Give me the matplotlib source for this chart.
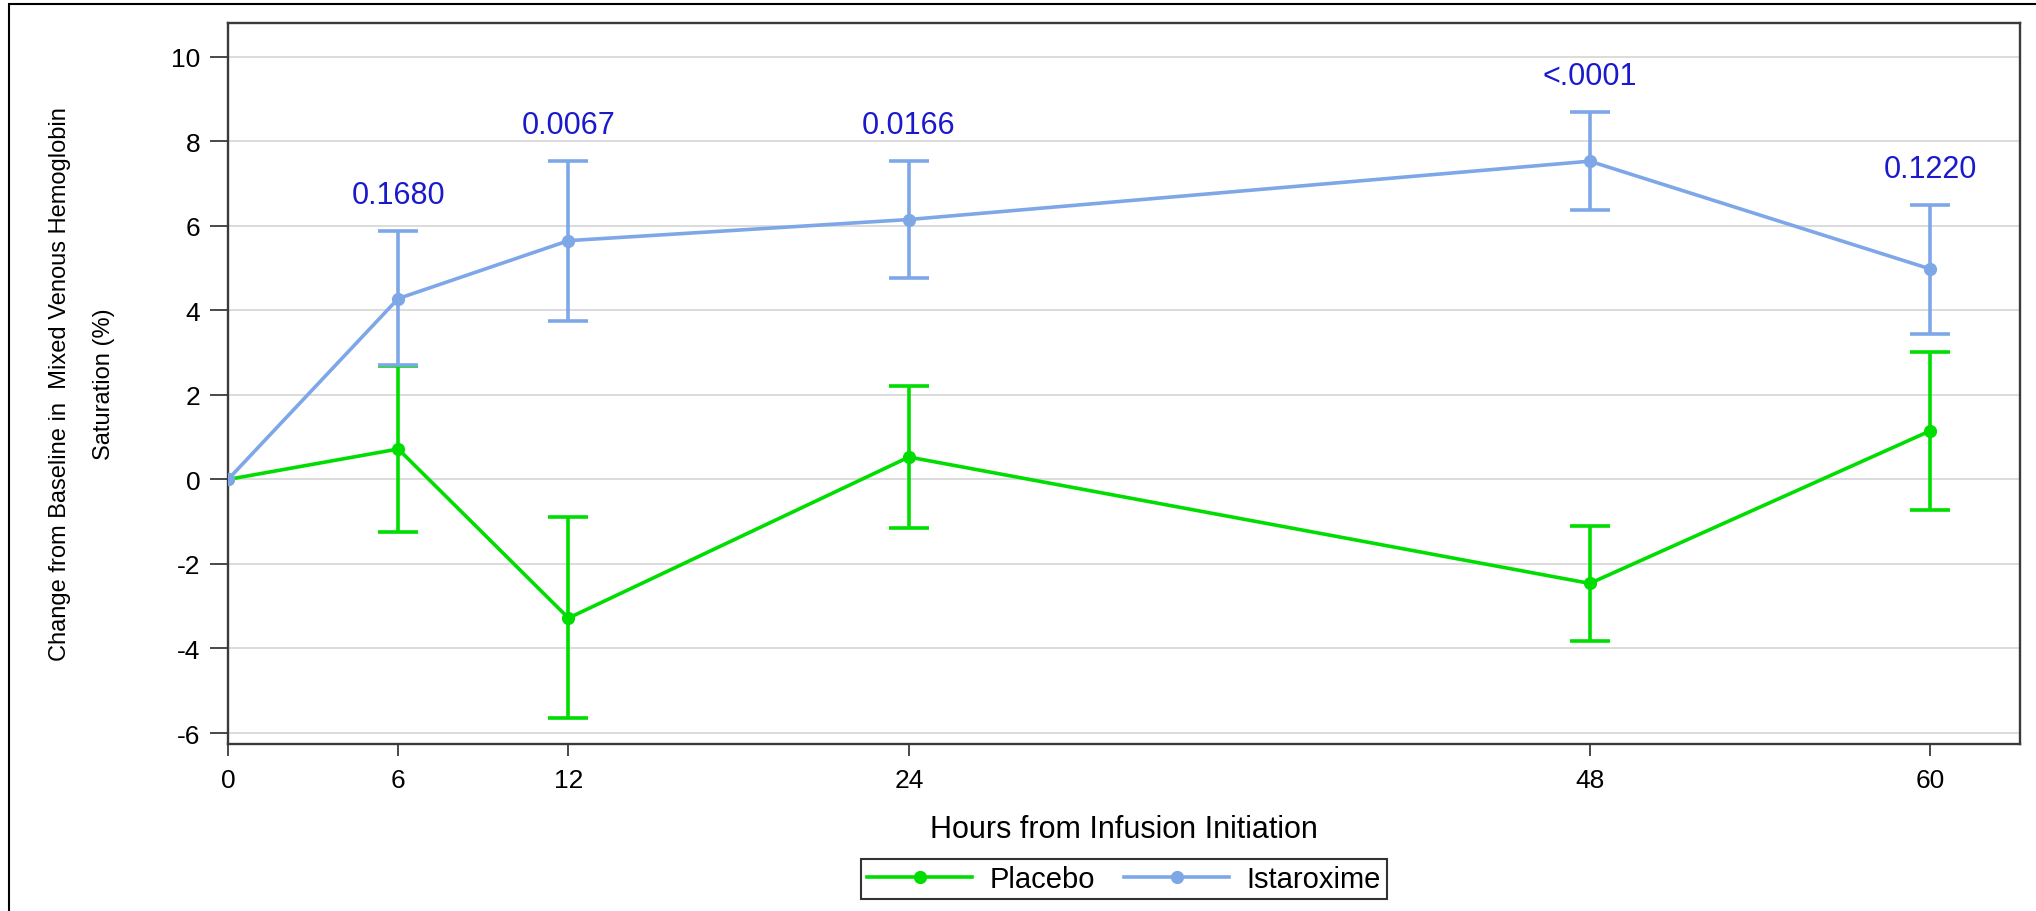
import matplotlib
matplotlib.use("Agg")
import matplotlib.pyplot as plt
from matplotlib.patches import Rectangle

plt.rcParams['font.family'] = ['Liberation Sans', 'DejaVu Sans']
plt.rcParams['axes.unicode_minus'] = False

# values
hours = [0, 6, 12, 24, 48, 60]
placebo_mean = [0, 0.72, -3.28, 0.53, -2.46, 1.15]
placebo_lower = [0, -1.24, -5.64, -1.16, -3.82, -0.72]
placebo_upper = [0, 2.68, -0.90, 2.22, -1.10, 3.02]
istar_mean = [0, 4.28, 5.65, 6.15, 7.53, 4.98]
istar_lower = [0, 2.70, 3.76, 4.76, 6.37, 3.44]
istar_upper = [0, 5.88, 7.54, 7.54, 8.70, 6.49]
p_values = ['', '0.1680', '0.0067', '0.0166', '<.0001', '0.1220']
y_ticks = [-6, -4, -2, 0, 2, 4, 6, 8, 10]

green = '#00dd00'
blue = '#7ea7e8'
pcolor = '#1a1acc'
spine_col = '#3a3a3a'

fig = plt.figure(figsize=(20.36, 9.12), dpi=100)
ax = fig.add_axes([0.1120, 0.1831, 0.8802, 0.7906])

# outer frame (cropped on right/bottom in the reference)
fig.patches.append(Rectangle((9 / 2036, -0.2), 2.0, 1.2 - 5 / 912, transform=fig.transFigure,
                             fill=False, ec='black', lw=1.5))


def draw_series(mean, lower, upper, color, label):
    ax.plot(hours, mean, color=color, lw=2.6, marker='o', ms=8.5, label=label, zorder=3)
    err_lo = [m - l for m, l in zip(mean[1:], lower[1:])]
    err_hi = [u - m for m, u in zip(mean[1:], upper[1:])]
    ax.errorbar(hours[1:], mean[1:], yerr=[err_lo, err_hi], fmt='none', ecolor=color,
                elinewidth=2.6, capsize=14.6, capthick=2.6, zorder=3)


draw_series(placebo_mean, placebo_lower, placebo_upper, green, 'Placebo')
draw_series(istar_mean, istar_lower, istar_upper, blue, 'Istaroxime')

for h, up, p in zip(hours, istar_upper, p_values):
    if p:
        ax.annotate(p, xy=(h, up), xytext=(0, 26), textcoords='offset points',
                    ha='center', va='center', fontsize=22, color=pcolor)

ax.set_xlim(0, 63.17)
ax.set_ylim(-6.26, 10.8)
ax.set_xticks(hours)
ax.set_yticks(y_ticks)
ax.yaxis.grid(True, color='#dcdcdc', lw=1.4)
ax.set_axisbelow(True)

for s in ax.spines.values():
    s.set_color(spine_col)
    s.set_linewidth(1.7)

ax.tick_params(axis='x', length=8.6, width=1.3, color=spine_col, pad=9, labelsize=19)
ax.tick_params(axis='y', length=13, width=1.3, color=spine_col, pad=7, labelsize=19)

ax.set_xlabel('Hours from Infusion Initiation', fontsize=22)
ax.xaxis.set_label_coords(0.5, -0.118)
ax.xaxis.label.set_va('center')

ax.set_ylabel('Change from Baseline in  Mixed Venous Hemoglobin\nSaturation (%)',
              fontsize=17, linespacing=2.3)
ax.yaxis.set_label_coords(-0.0815, 0.5)
ax.yaxis.label.set_va('center')

leg = ax.legend(loc='center', bbox_to_anchor=(0.5, -0.187), ncol=2, fontsize=21,
                frameon=True, fancybox=False, edgecolor='black', borderpad=0.2,
                handlelength=3.6, handletextpad=0.6, columnspacing=1.0, borderaxespad=0)
leg.get_frame().set_linewidth(1.5)

fig.savefig('out.png', dpi=100)
